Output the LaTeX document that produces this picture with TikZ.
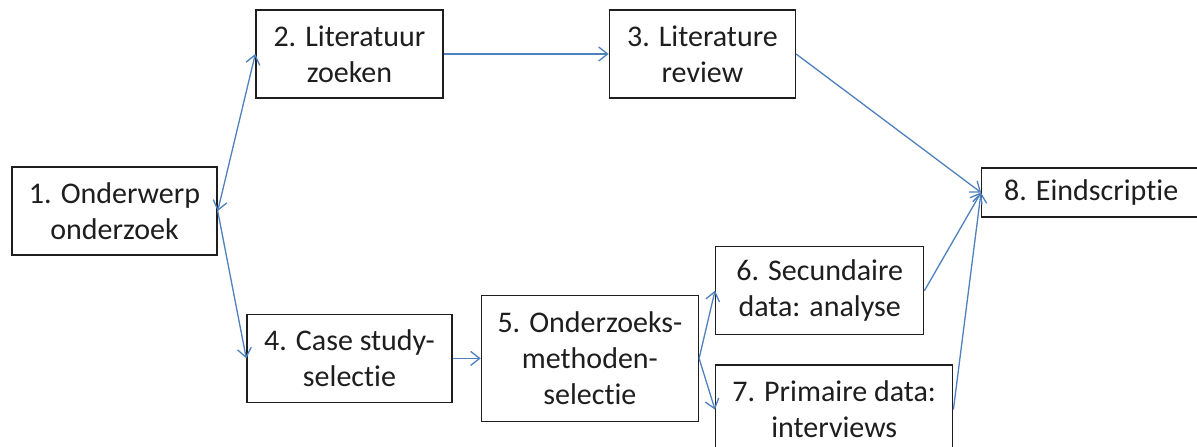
\documentclass[tikz,border=0pt]{standalone}
\usepackage{fontspec}
\setmainfont{Carlito}[Ligatures=NoCommon]
\usepackage{tikz}
\usetikzlibrary{arrows.meta,positioning}
\definecolor{arrBlue}{RGB}{79,129,189}
\definecolor{boxInk}{RGB}{30,30,30}

\begin{document}
\begin{tikzpicture}[x=1pt, y=-1pt,
  stage/.style={draw=boxInk, line width=1.4pt, align=center, inner sep=0pt,
    minimum width=#1, minimum height=88pt, text=boxInk,
    font=\fontsize{30}{36}\selectfont},
  stage/.default=205pt,
  >={Straight Barb[length=9pt,width=14pt]},
  arr/.style={->, line width=1.3pt, arrBlue},
]
\clip (0,0) rectangle (1197,447);
\fill[white] (0,0) rectangle (1197,447);

% start: topic
\node[stage=205pt] (onderwerp) at (114.5,211) {1. Onderwerp\\onderzoek};

% upper branch: literature
\node[stage=187pt] (zoeken) at (349.5,54) {2. Literatuur\\zoeken};
\node[stage=186pt, right=165pt of zoeken] (review) {3. Literature\\review};

% lower branch: case study and methods
\node[stage=205pt, below=215pt of zoeken] (casus) {4. Case study-\\selectie};
\node[stage=217pt, minimum height=126pt, right=28pt of casus] (methode) {5. Onderzoeks-\\methoden-\\selectie};
\node[stage=208pt, anchor=north west] (secundair) at (715,246) {6. Secundaire\\data: analyse};
\node[stage=237pt, minimum height=89pt, below=29pt of secundair.south west, anchor=north west] (primair) {7. Primaire data:\\interviews};

% end: thesis
\node[stage=219pt, minimum height=49pt, anchor=west] (scriptie) at (981,192.5) {8. Eindscriptie};

\draw[arr, <->] (onderwerp.east) -- (zoeken.west);
\draw[arr] (onderwerp.east) -- (casus.west);
\draw[arr] (zoeken) -- (review);
\draw[arr] (review.east) -- (scriptie.west);
\draw[arr] (casus) -- (methode);
\draw[arr] (methode.east) -- (secundair.west);
\draw[arr] (methode.east) -- (primair.west);
\draw[arr] (secundair.east) -- (scriptie.west);
\draw[arr] (primair.east) -- (scriptie.west);

\end{tikzpicture}
\end{document}
